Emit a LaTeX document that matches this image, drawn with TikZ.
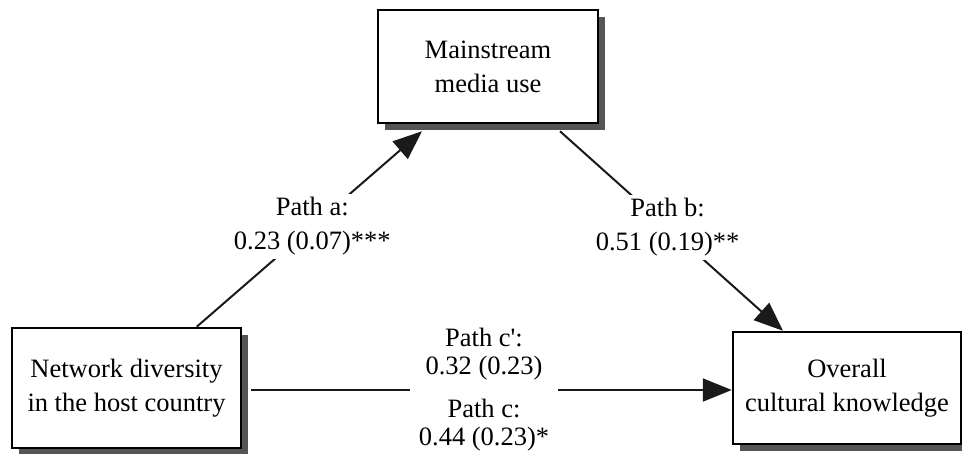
\documentclass[tikz,border=0pt]{standalone}
\usepackage{fontspec}
\setmainfont{Liberation Serif}
\usetikzlibrary{arrows.meta,shadows,calc}
\definecolor{shadowgray}{HTML}{555555}
\definecolor{linecol}{HTML}{1A1A1A}
\begin{document}
\begin{tikzpicture}[x=1pt,y=-1pt,
  box/.style={draw=black, fill=white, line width=2.5pt, align=center,
    font=\fontsize{26.5}{34}\selectfont,
    drop shadow={shadow xshift=7pt, shadow yshift=-7pt, fill=shadowgray, opacity=1}},
  conn/.style={draw=linecol, line width=2pt, -{Triangle[length=29pt,width=23pt]}},
  lab/.style={fill=white, align=center, text=black, font=\fontsize{26.5}{34}\selectfont}]
\useasboundingbox (0,0) rectangle (962,453);
\fill[white] (0,0) rectangle (962,453);
\node[box, minimum width=220pt, minimum height=113pt] (M) at (488,66.5) {Mainstream\\media use};
\node[box, minimum width=229pt, minimum height=120pt] (N) at (126.5,388) {Network diversity\\in the host country};
\node[box, minimum width=228pt, minimum height=112pt] (O) at (847,388) {Overall\\cultural knowledge};
\draw[conn] ($(N.north west)+(186,0)$) -- node[lab, pos=0.513] {Path a:\\0.23 (0.07)***} ($(M.south)+(-66,7)$);
\draw[conn] ($(M.south)+(72,7)$) -- node[lab, pos=0.4825] {Path b:\\0.51 (0.19)**} ($(O.north)+(-64,0)$);
\draw[conn] ($(N.east)+(9,2)$) -- node[lab, pos=0.4845, minimum width=148pt, font=\fontsize{26.5}{28}\selectfont] {Path c\textquotesingle:\\0.32 (0.23)\\[15pt]Path c:\\0.44 (0.23)*} ($(O.west)+(0,2)$);
\end{tikzpicture}
\end{document}
